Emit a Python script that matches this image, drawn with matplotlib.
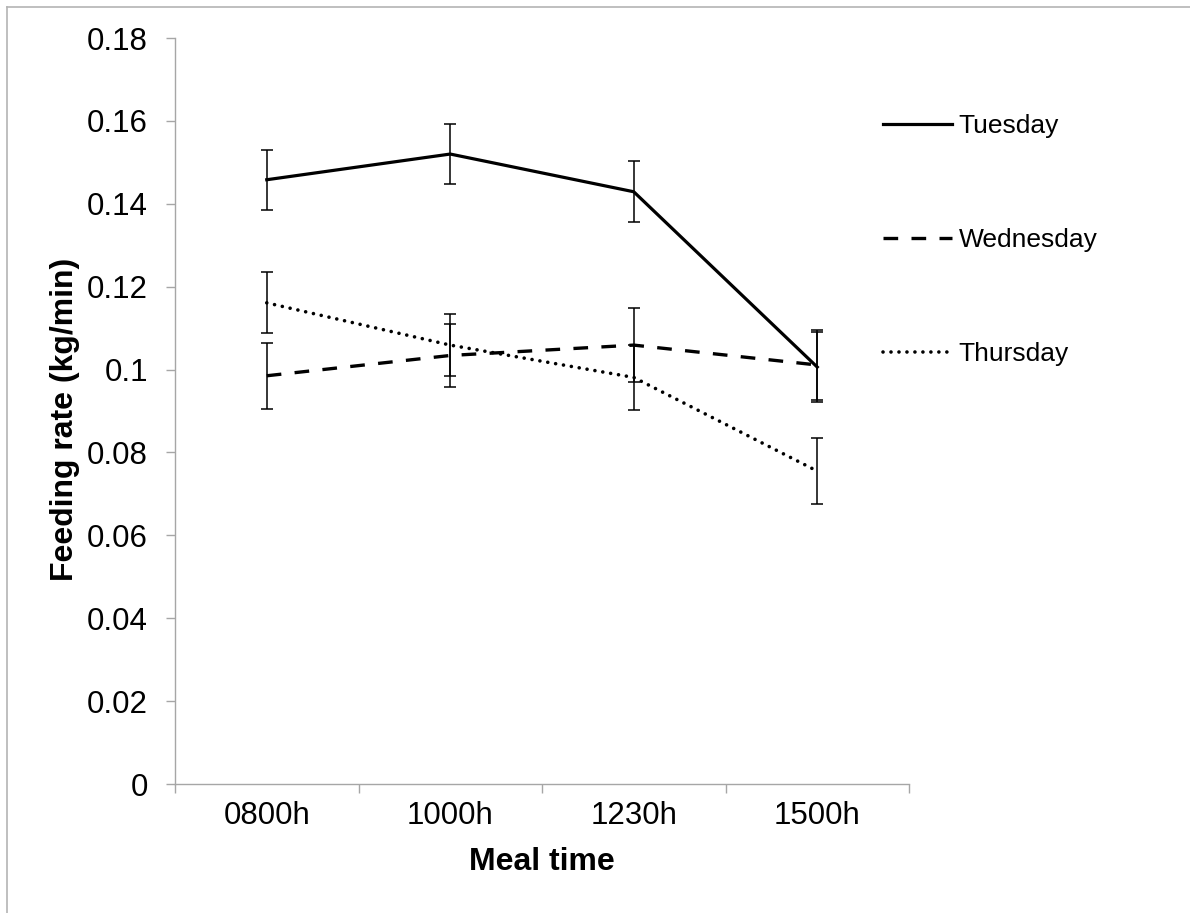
import matplotlib
matplotlib.use('Agg')
import matplotlib.pyplot as plt
import numpy as np
from matplotlib.lines import Line2D
from matplotlib.ticker import FuncFormatter, FixedLocator

plt.rcParams['font.family'] = ['Liberation Sans', 'DejaVu Sans']

meal_times = ['0800h', '1000h', '1230h', '1500h']

tuesday = [0.1458, 0.1520, 0.1429, 0.1006]
tuesday_err = [0.0072, 0.0073, 0.0074, 0.0084]

wednesday = [0.0985, 0.1034, 0.1059, 0.1011]
wednesday_err = [0.0080, 0.0075, 0.0090, 0.0085]

thursday = [0.1161, 0.1059, 0.0981, 0.0755]
thursday_err = [0.0074, 0.0075, 0.0078, 0.0080]

x = np.arange(len(meal_times))

fig = plt.figure(figsize=(11.9, 9.13), dpi=100)
ax = fig.add_axes([175 / 1190, 1 - 784 / 913, 734 / 1190, 746 / 913])

l1, = ax.plot(x, tuesday, color='black', lw=2.3, solid_joinstyle='miter', label='Tuesday')
l2, = ax.plot(x, wednesday, color='black', lw=2.4, linestyle=(0, (4.4, 4)), label='Wednesday')
l3, = ax.plot(x, thursday, color='black', lw=2.6, linestyle=(0, (0.01, 2.2)),
              dash_capstyle='round', label='Thursday')

for vals, errs in [(tuesday, tuesday_err), (wednesday, wednesday_err), (thursday, thursday_err)]:
    ax.errorbar(x, vals, yerr=errs, fmt='none', ecolor='black', elinewidth=1.1,
                capsize=4.3, capthick=1.1)

ax.set_xlim(-0.5, len(meal_times) - 0.5)
ax.set_ylim(0, 0.18)
ax.set_yticks(np.arange(0, 0.181, 0.02))
ax.yaxis.set_major_formatter(FuncFormatter(lambda v, p: '%g' % round(v, 2)))

ax.xaxis.set_major_locator(FixedLocator(np.arange(-0.5, len(meal_times), 1.0)))
ax.xaxis.set_minor_locator(FixedLocator(x))
ax.set_xticklabels([], minor=False)
ax.set_xticklabels(meal_times, minor=True)

gray = '#a6a6a6'
for s in ['top', 'right']:
    ax.spines[s].set_visible(False)
for s in ['left', 'bottom']:
    ax.spines[s].set_color(gray)
    ax.spines[s].set_linewidth(1.0)

ax.tick_params(axis='both', which='major', direction='out', length=6.5, width=1.0, color=gray)
ax.tick_params(axis='x', which='minor', length=0, pad=12.5, labelsize=22.5)
ax.tick_params(axis='y', which='major', pad=13, labelsize=22.5)

ax.set_xlabel('Meal time', fontsize=23, fontweight='bold', labelpad=11)
ax.set_ylabel('Feeding rate (kg/min)', fontsize=23, fontweight='bold', labelpad=5, y=0.489)

fig.legend(handles=[l1, l2, l3], loc='upper left', bbox_to_anchor=(883 / 1190, 1 - 114 / 913),
           frameon=False, fontsize=19, borderpad=0, borderaxespad=0,
           handlelength=2.6, handletextpad=0.27, labelspacing=3.42)

fig.add_artist(Line2D([7 / 1190, 7 / 1190], [0, 1 - 7 / 913], transform=fig.transFigure,
                      color='#b4b4b4', lw=1.2))
fig.add_artist(Line2D([7 / 1190, 1], [1 - 7 / 913, 1 - 7 / 913], transform=fig.transFigure,
                      color='#b4b4b4', lw=1.2))

fig.savefig('out.png', dpi=100)
